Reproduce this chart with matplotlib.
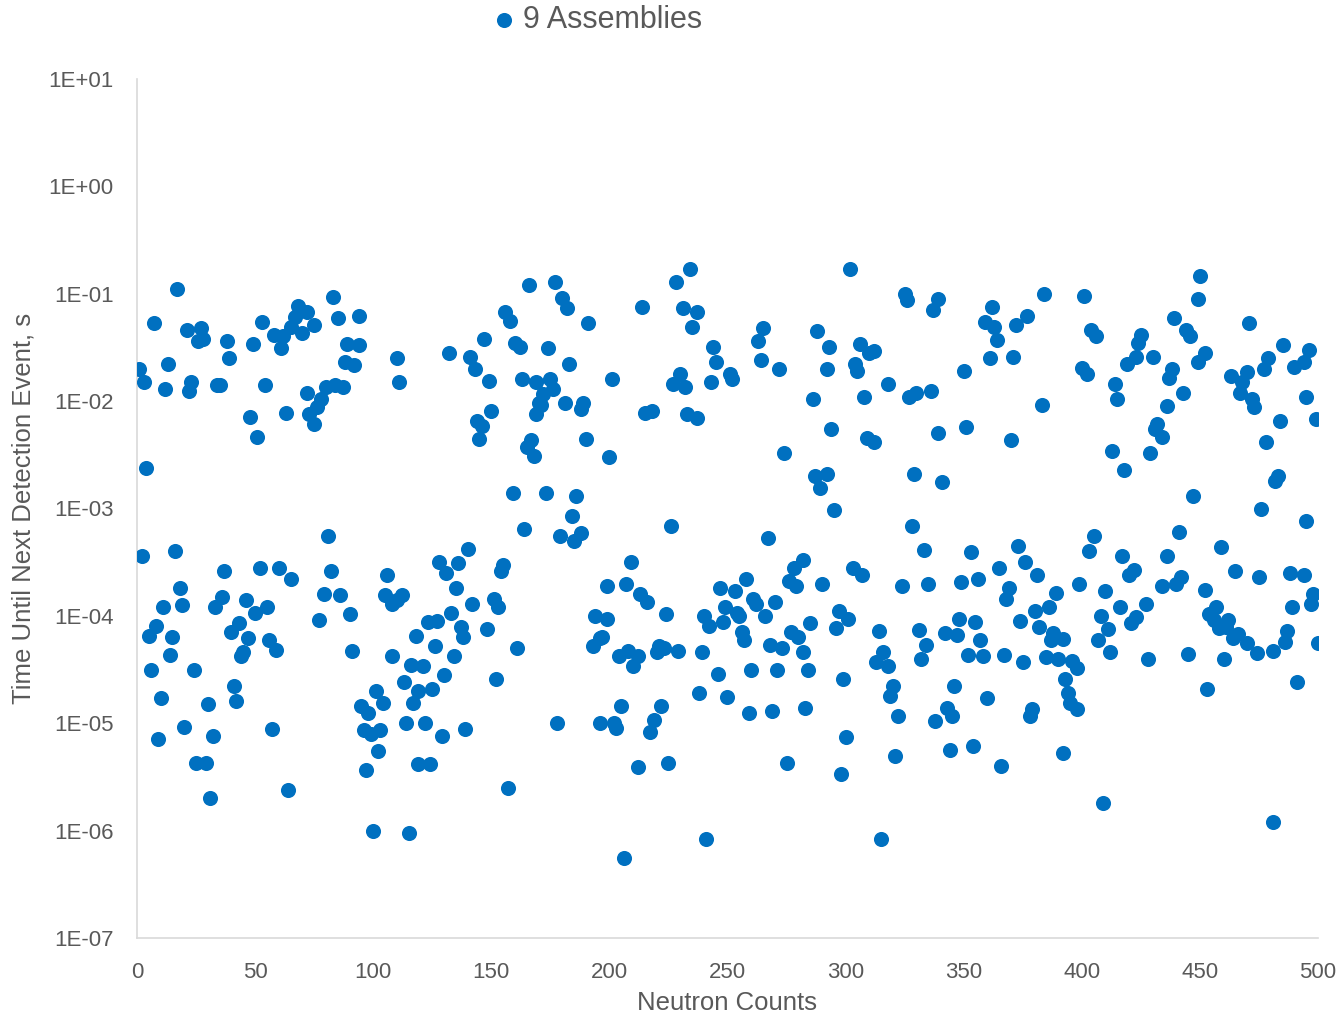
import numpy as np
import matplotlib.pyplot as plt
from matplotlib.ticker import FixedLocator, FuncFormatter, NullLocator

plt.rcParams['font.family'] = ['Liberation Sans', 'DejaVu Sans']

series_name = '9 Assemblies'

# neutron count / time until next detection event (s), read in blocks of ~100 counts
counts_0 = [1, 2, 3, 4, 5, 6, 7, 8, 9, 10,
            11, 12, 13, 14, 15, 16, 17, 18, 19, 20,
            21, 22, 23, 24, 25, 26, 27, 28, 29, 30,
            31, 32, 33, 34, 35, 36, 37, 38, 39, 40,
            41, 42, 43, 44, 45, 46, 47, 48, 49, 50,
            51, 52, 53, 54, 55, 56, 57, 58, 59, 60,
            61, 62, 63, 64, 65, 65, 67, 68, 70, 72,
            75, 72, 73, 75, 76, 78, 77, 79, 80, 81,
            82, 83, 84, 85, 86, 87, 88, 89, 90, 91,
            92, 94, 94, 95, 96, 97, 98, 99]
times_0 = [2.0e-2, 3.6e-4, 1.5e-2, 2.4e-3, 6.5e-5, 3.1e-5, 5.3e-2, 8.1e-5, 7.1e-6, 1.7e-5,
           1.2e-4, 1.3e-2, 2.2e-2, 4.3e-5, 6.4e-5, 4.0e-4, 1.1e-1, 1.8e-4, 1.25e-4, 9.2e-6,
           4.6e-2, 1.25e-2, 1.5e-2, 3.1e-5, 4.3e-6, 3.6e-2, 4.8e-2, 3.8e-2, 4.3e-6, 1.5e-5,
           2.0e-6, 7.6e-6, 1.2e-4, 1.4e-2, 1.4e-2, 1.5e-4, 2.6e-4, 3.6e-2, 2.5e-2, 7.1e-5,
           2.2e-5, 1.6e-5, 8.6e-5, 4.2e-5, 4.6e-5, 1.4e-4, 6.2e-5, 7.1e-3, 3.4e-2, 1.07e-4,
           4.6e-3, 2.8e-4, 5.4e-2, 1.4e-2, 1.2e-4, 6.0e-5, 8.8e-6, 4.1e-2, 4.8e-5, 2.8e-4,
           3.1e-2, 4.0e-2, 7.7e-3, 2.4e-6, 2.2e-4, 4.9e-2, 6.1e-2, 7.7e-2, 4.3e-2, 6.7e-2,
           5.1e-2, 1.2e-2, 7.6e-3, 6.1e-3, 8.8e-3, 1.05e-2, 9.2e-5, 1.6e-4, 1.35e-2, 5.6e-4,
           2.6e-4, 9.4e-2, 1.4e-2, 5.9e-2, 1.55e-4, 1.35e-2, 2.3e-2, 3.4e-2, 1.05e-4, 4.7e-5,
           2.15e-2, 3.3e-2, 6.2e-2, 1.45e-5, 8.6e-6, 3.7e-6, 1.25e-5, 7.9e-6]

counts_1 = [100, 101, 102, 103, 104, 105, 106, 108, 108, 110,
            110, 111, 112, 113, 114, 115, 116, 117, 118, 119,
            119, 121, 122, 123, 124, 125, 126, 127, 128, 129,
            130, 131, 132, 133, 134, 135, 136, 137, 138, 139,
            140, 141, 142, 143, 144, 145, 146, 147, 148, 149,
            150, 151, 152, 153, 154, 155, 156, 157, 158, 159,
            160, 161, 162, 163, 164, 165, 166, 167, 168, 169,
            169, 170, 171, 172, 173, 174, 175, 176, 177, 178,
            179, 180, 181, 182, 183, 184, 185, 186, 188, 188,
            189, 190, 191, 193, 194, 196, 196, 197, 199, 199]
times_1 = [1.0e-6, 2.0e-5, 5.5e-6, 8.6e-6, 1.55e-5, 1.55e-4, 2.4e-4, 1.3e-4, 4.2e-5, 1.4e-4,
           2.5e-2, 1.5e-2, 1.55e-4, 2.4e-5, 1.0e-5, 9.4e-7, 3.5e-5, 1.55e-5, 6.5e-5, 4.2e-6,
           2.0e-5, 3.4e-5, 1.0e-5, 8.8e-5, 4.2e-6, 2.1e-5, 5.2e-5, 9.0e-5, 3.2e-4, 7.6e-6,
           2.8e-5, 2.5e-4, 2.8e-2, 1.07e-4, 4.2e-5, 1.8e-4, 3.1e-4, 7.9e-5, 6.4e-5, 8.8e-6,
           4.2e-4, 2.6e-2, 1.3e-4, 2.0e-2, 6.5e-3, 4.4e-3, 5.9e-3, 3.8e-2, 7.6e-5, 1.55e-2,
           8.1e-3, 1.45e-4, 2.6e-5, 1.2e-4, 2.6e-4, 3.0e-4, 6.8e-2, 2.5e-6, 5.6e-2, 1.4e-3,
           3.5e-2, 5.0e-5, 3.2e-2, 1.6e-2, 6.5e-4, 3.7e-3, 1.2e-1, 4.3e-3, 3.1e-3, 7.6e-3,
           1.5e-2, 9.6e-3, 9.2e-3, 1.17e-2, 1.4e-3, 3.1e-2, 1.6e-2, 1.3e-2, 1.3e-1, 1.0e-5,
           5.5e-4, 9.2e-2, 9.6e-3, 7.3e-2, 2.2e-2, 8.6e-4, 5.0e-4, 1.3e-3, 8.4e-3, 5.9e-4,
           9.6e-3, 4.4e-3, 5.3e-2, 5.2e-5, 1.0e-4, 6.2e-5, 1.0e-5, 6.4e-5, 1.9e-4, 9.4e-5]

counts_2 = [200, 201, 202, 203, 204, 205, 206, 207, 208, 209,
            210, 212, 212, 213, 214, 215, 216, 217, 218, 219,
            220, 221, 222, 223, 224, 225, 226, 227, 228, 229,
            230, 231, 232, 233, 234, 235, 237, 237, 238, 239,
            240, 241, 242, 243, 244, 245, 246, 247, 248, 249,
            250, 251, 252, 253, 254, 255, 256, 257, 258, 259,
            260, 261, 262, 263, 264, 265, 266, 267, 268, 269,
            270, 271, 272, 273, 274, 275, 276, 277, 278, 279,
            280, 282, 282, 283, 284, 285, 286, 287, 288, 289,
            290, 292, 292, 293, 294, 295, 296, 297, 298, 299]
times_2 = [3.0e-3, 1.6e-2, 1.0e-5, 9.0e-6, 4.2e-5, 1.45e-5, 5.6e-7, 2.0e-4, 4.7e-5, 3.2e-4,
           3.4e-5, 4.2e-5, 3.9e-6, 1.6e-4, 7.6e-2, 7.7e-3, 1.35e-4, 8.2e-6, 8.1e-3, 1.07e-5,
           4.6e-5, 5.2e-5, 1.45e-5, 5.0e-5, 1.05e-4, 4.3e-6, 6.8e-4, 1.45e-2, 1.3e-1, 4.7e-5,
           1.8e-2, 7.4e-2, 1.35e-2, 7.6e-3, 1.7e-1, 4.9e-2, 6.7e-2, 6.9e-3, 1.9e-5, 4.6e-5,
           1.0e-4, 8.4e-7, 8.1e-5, 1.5e-2, 3.2e-2, 2.3e-2, 2.9e-5, 1.8e-4, 8.8e-5, 1.2e-4,
           1.75e-5, 1.8e-2, 1.6e-2, 1.7e-4, 1.07e-4, 1.0e-4, 7.1e-5, 6.0e-5, 2.2e-4, 1.25e-5,
           3.1e-5, 1.45e-4, 1.3e-4, 3.6e-2, 2.4e-2, 4.8e-2, 1.0e-4, 5.3e-4, 5.4e-5, 1.3e-5,
           1.35e-4, 3.1e-5, 2.0e-2, 5.0e-5, 3.3e-3, 4.3e-6, 2.1e-4, 7.1e-5, 2.8e-4, 1.9e-4,
           6.4e-5, 3.3e-4, 4.6e-5, 1.4e-5, 3.1e-5, 8.6e-5, 1.05e-2, 2.0e-3, 4.5e-2, 1.55e-3,
           2.0e-4, 2.1e-3, 2.0e-2, 3.2e-2, 5.5e-3, 9.6e-4, 7.7e-5, 1.1e-4, 3.4e-6, 2.6e-5]

counts_3 = [300, 301, 302, 303, 304, 305, 306, 307, 308, 309,
            310, 312, 312, 313, 314, 315, 316, 318, 318, 319,
            320, 321, 322, 324, 325, 326, 327, 328, 329, 330,
            331, 332, 333, 334, 335, 336, 337, 338, 339, 339,
            341, 342, 343, 344, 345, 346, 347, 348, 349, 350,
            351, 352, 353, 354, 355, 356, 357, 358, 359, 360,
            361, 362, 363, 364, 365, 366, 367, 368, 369, 370,
            371, 372, 373, 374, 375, 376, 377, 378, 379, 380,
            381, 382, 383, 384, 385, 386, 387, 388, 389, 390,
            392, 392, 393, 394, 395, 396, 398, 398, 399]
times_3 = [7.4e-6, 9.4e-5, 1.7e-1, 2.8e-4, 2.2e-2, 1.9e-2, 3.4e-2, 2.4e-4, 1.1e-2, 4.5e-3,
           2.8e-2, 2.9e-2, 4.2e-3, 3.7e-5, 7.2e-5, 8.4e-7, 4.6e-5, 1.45e-2, 3.4e-5, 1.8e-5,
           2.2e-5, 5.0e-6, 1.17e-5, 1.9e-4, 1.0e-1, 8.8e-2, 1.1e-2, 6.8e-4, 2.1e-3, 1.2e-2,
           7.4e-5, 4.0e-5, 4.1e-4, 5.3e-5, 2.0e-4, 1.25e-2, 7.1e-2, 1.05e-5, 9.0e-2, 5.0e-3,
           1.75e-3, 6.9e-5, 1.4e-5, 5.6e-6, 1.17e-5, 2.2e-5, 6.7e-5, 9.4e-5, 2.05e-4, 1.9e-2,
           5.7e-3, 4.3e-5, 3.9e-4, 6.1e-6, 8.8e-5, 2.2e-4, 6.0e-5, 4.2e-5, 5.5e-2, 1.7e-5,
           2.5e-2, 7.6e-2, 4.9e-2, 3.7e-2, 2.8e-4, 4.0e-6, 4.3e-5, 1.45e-4, 1.8e-4, 4.3e-3,
           2.6e-2, 5.1e-2, 4.5e-4, 9.0e-5, 3.7e-5, 3.2e-4, 6.2e-2, 1.17e-5, 1.35e-5, 1.1e-4,
           2.4e-4, 7.9e-5, 9.2e-3, 1.0e-1, 4.1e-5, 1.2e-4, 6.0e-5, 6.9e-5, 1.65e-4, 4.0e-5,
           6.1e-5, 5.3e-6, 2.6e-5, 1.9e-5, 1.55e-5, 3.8e-5, 3.3e-5, 1.35e-5, 2.0e-4]

counts_4 = [400, 401, 402, 403, 404, 405, 406, 407, 408, 409,
            410, 411, 412, 413, 414, 415, 416, 417, 418, 419,
            420, 421, 422, 423, 423, 424, 425, 427, 428, 429,
            430, 431, 432, 434, 434, 436, 436, 437, 438, 439,
            440, 441, 442, 443, 444, 445, 446, 447, 449, 449,
            450, 452, 452, 453, 454, 456, 457, 458, 459, 460,
            461, 462, 463, 464, 465, 466, 467, 468, 470, 470,
            471, 472, 473, 474, 475, 476, 477, 478, 479, 481,
            481, 482, 483, 484, 485, 486, 487, 488, 489, 490,
            491, 494, 494, 495, 495, 496, 497, 498, 499, 500]
times_4 = [2.05e-2, 9.6e-2, 1.8e-2, 4.0e-4, 4.6e-2, 5.5e-4, 4.0e-2, 5.9e-5, 1.0e-4, 1.8e-6,
           1.7e-4, 7.6e-5, 4.6e-5, 3.4e-3, 1.45e-2, 1.05e-2, 1.2e-4, 3.6e-4, 2.3e-3, 2.2e-2,
           2.4e-4, 8.6e-5, 2.7e-4, 9.8e-5, 2.6e-2, 3.5e-2, 4.1e-2, 1.3e-4, 4.0e-5, 3.3e-3,
           2.6e-2, 5.5e-3, 6.1e-3, 4.6e-3, 1.9e-4, 9.0e-3, 3.6e-4, 1.65e-2, 2.0e-2, 5.9e-2,
           2.0e-4, 6.0e-4, 2.3e-4, 1.2e-2, 4.6e-2, 4.4e-5, 4.0e-2, 1.3e-3, 9.0e-2, 2.3e-2,
           1.45e-1, 2.8e-2, 1.75e-4, 2.1e-5, 1.05e-4, 9.2e-5, 1.2e-4, 7.7e-5, 4.4e-4, 4.0e-5,
           7.9e-5, 9.2e-5, 1.7e-2, 6.2e-5, 2.6e-4, 6.8e-5, 1.2e-2, 1.5e-2, 1.85e-2, 5.6e-5,
           5.3e-2, 1.05e-2, 8.8e-3, 4.5e-5, 2.3e-4, 1.0e-3, 2.0e-2, 4.2e-3, 2.5e-2, 4.7e-5,
           1.2e-6, 1.8e-3, 2.0e-3, 6.5e-3, 3.3e-2, 5.7e-5, 7.2e-5, 2.5e-4, 1.2e-4, 2.1e-2,
           2.4e-5, 2.3e-2, 2.4e-4, 1.1e-2, 7.6e-4, 3.0e-2, 1.3e-4, 1.6e-4, 6.8e-3, 5.6e-5]

x_ticks = [0, 50, 100, 150, 200, 250, 300, 350, 400, 450, 500]
y_exponents = [-7, -6, -5, -4, -3, -2, -1, 0, 1]

counts = counts_0 + counts_1 + counts_2 + counts_3 + counts_4
times = times_0 + times_1 + times_2 + times_3 + times_4

grey = '#595959'

fig = plt.figure(figsize=(13.42, 10.17), dpi=100)
ax = fig.add_axes([0.1021, 0.0777, 0.88, 0.8446])

ax.scatter(counts, times, s=118, color='#0070C0', linewidths=0, label=series_name, zorder=3)

ax.set_yscale('log')
ax.set_xlim(0, 500)
ax.set_ylim(1e-7, 1e1)
ax.set_xticks(x_ticks)
ax.yaxis.set_major_locator(FixedLocator([10.0 ** e for e in y_exponents]))
ax.yaxis.set_minor_locator(NullLocator())
ax.yaxis.set_major_formatter(FuncFormatter(lambda v, p: '1E%+03d' % round(np.log10(v))))

ax.tick_params(axis='both', length=0, labelsize=16, labelcolor=grey)
ax.tick_params(axis='y', pad=17)
ax.tick_params(axis='x', pad=17)

for side in ['top', 'right']:
    ax.spines[side].set_visible(False)
ax.spines['left'].set_color('#d9d9d9')
ax.spines['bottom'].set_color('#d9d9d9')
ax.spines['left'].set_linewidth(1.2)
ax.spines['bottom'].set_linewidth(1.2)

ax.set_xlabel('Neutron Counts', fontsize=18.5, color=grey, labelpad=6)
ax.set_ylabel('Time Until Next Detection Event, s', fontsize=18.5, color=grey, labelpad=9)

fig.legend(loc='center', bbox_to_anchor=(0.446, 0.980), frameon=False,
           fontsize=22, labelcolor=grey, handlelength=0.6, handletextpad=0.35)

fig.savefig('out.png', dpi=100)
